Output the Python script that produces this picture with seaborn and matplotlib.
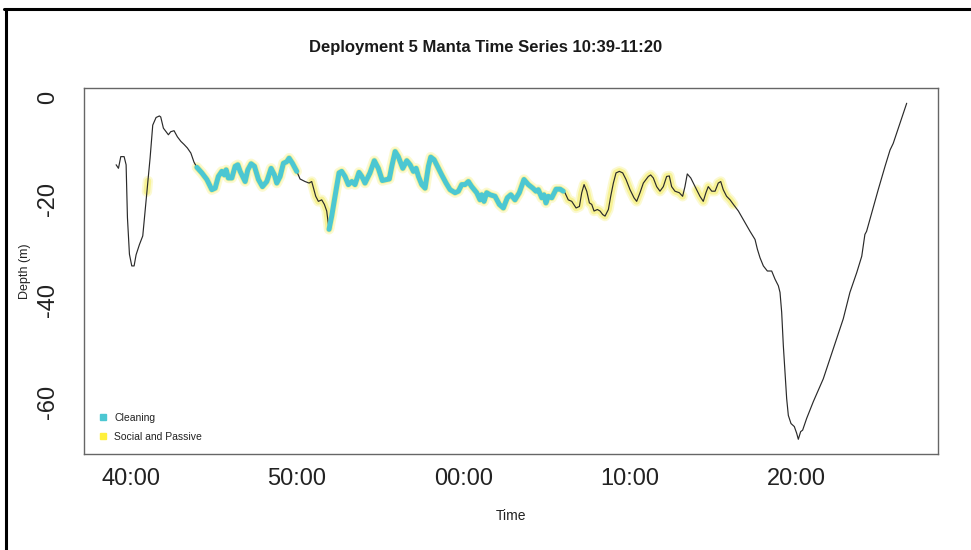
import matplotlib
matplotlib.use("Agg")
import matplotlib.pyplot as plt
from matplotlib.lines import Line2D
import pandas as pd
import seaborn as sns

# Tag record: minutes after 10:00 and depth in metres
time_min = [
    39.13, 39.27, 39.41, 39.61, 39.73, 39.81, 39.93, 40.07, 40.21, 40.33,
    40.53, 40.73, 40.87, 40.98, 41.04, 41.17, 41.33, 41.53, 41.73, 41.81,
    41.97, 42.13, 42.27, 42.41, 42.61, 42.81, 43.02, 43.21, 43.41, 43.62,
    43.81, 43.98,
    44.28, 44.58, 44.88, 45.08, 45.27, 45.48, 45.63, 45.74, 45.87, 46.08,
    46.28, 46.44, 46.58, 46.88, 47.04, 47.24, 47.44, 47.68, 47.92, 48.18,
    48.44, 48.64, 48.78, 48.98, 49.18, 49.38, 49.52, 49.72, 49.98,
    50.18, 50.48, 50.72, 50.88, 51.12, 51.28, 51.48, 51.64, 51.78, 51.92,
    52.08, 52.28, 52.52, 52.68, 52.88, 53.08, 53.29, 53.48, 53.72, 53.89,
    54.08, 54.38, 54.64, 54.88, 55.12, 55.39, 55.54, 55.69, 55.89, 56.08,
    56.35, 56.59, 56.79, 56.99, 57.15, 57.29, 57.49, 57.69, 57.89, 58.03,
    58.23, 58.43, 58.69, 58.95, 59.19, 59.49, 59.69, 59.89, 60.09, 60.29,
    60.49, 60.79, 60.99, 61.09, 61.23, 61.39, 61.59, 61.89, 62.15, 62.39,
    62.63, 62.84, 63.09, 63.35, 63.63, 63.89, 64.16, 64.35, 64.49, 64.70,
    64.83, 64.95, 65.09, 65.30, 65.56, 65.80, 65.99,
    66.09, 66.29, 66.50, 66.76, 66.96, 67.10, 67.24, 67.40, 67.56, 67.70,
    67.84, 68.04, 68.20, 68.36, 68.50, 68.70, 68.84, 69.00, 69.16, 69.36,
    69.56, 69.76, 70.00, 70.24, 70.40, 70.60, 70.80, 70.96, 71.10, 71.24,
    71.40, 71.60, 71.80, 72.00, 72.20, 72.36, 72.50, 72.70, 72.96, 73.16,
    73.30, 73.44, 73.65, 73.80, 74.00, 74.20, 74.40, 74.56, 74.70, 74.91,
    75.11, 75.30, 75.45, 75.60, 75.80, 76.01, 76.21,
    76.51, 76.91, 77.21, 77.51, 77.65, 77.81, 78.01, 78.25, 78.51, 78.71,
    78.91, 79.01, 79.11, 79.21, 79.31, 79.41, 79.51, 79.67, 79.87, 80.01,
    80.11, 80.25, 80.37, 80.61, 81.01, 81.61, 82.21, 82.81, 83.21, 83.62,
    83.92, 84.11, 84.21, 84.52, 84.91, 85.32, 85.62, 85.81, 86.22, 86.62,
]
depth_m = [
    -13.3, -14.0, -11.7, -11.7, -13.3, -23.7, -30.9, -33.2, -33.2, -31.0,
    -29.0, -27.3, -22.4, -18.6, -16.5, -12.0, -5.5, -4.0, -3.7, -3.9,
    -6.1, -6.8, -7.4, -6.8, -6.6, -7.8, -8.7, -9.3, -10.0, -11.0,
    -12.8, -13.8,
    -14.9, -16.2, -18.2, -17.9, -15.6, -14.6, -15.3, -14.3, -15.9, -15.9,
    -13.6, -13.3, -14.6, -16.6, -14.3, -13.1, -13.6, -16.2, -17.6, -16.6,
    -14.0, -15.3, -16.9, -15.6, -13.0, -12.7, -12.0, -13.0, -14.6,
    -16.1, -16.6, -16.9, -16.6, -19.5, -20.5, -20.2, -21.1, -22.4, -26.0,
    -23.4, -19.5, -14.9, -14.6, -15.6, -17.2, -16.6, -17.2, -14.8, -15.6,
    -16.9, -14.9, -12.5, -14.0, -16.4, -16.2, -16.1, -13.6, -10.7, -11.7,
    -14.0, -12.5, -13.3, -14.6, -14.0, -15.6, -17.2, -17.9, -13.6, -11.8,
    -12.3, -13.6, -15.3, -16.9, -18.2, -18.8, -18.5, -17.2, -17.2, -16.6,
    -17.6, -18.8, -20.2, -19.2, -20.5, -18.8, -19.2, -19.5, -21.1, -21.8,
    -19.8, -19.2, -20.2, -18.8, -16.2, -17.2, -17.9, -18.5, -18.2, -19.8,
    -19.2, -20.8, -19.5, -19.8, -18.1, -18.1, -18.5,
    -18.8, -20.2, -20.5, -21.8, -21.5, -18.8, -17.2, -18.5, -20.8, -21.1,
    -22.4, -22.1, -22.4, -23.1, -23.4, -22.1, -19.5, -16.9, -14.9, -14.6,
    -14.9, -16.2, -18.2, -19.8, -20.5, -18.8, -16.9, -16.2, -15.6, -15.3,
    -15.9, -17.6, -18.5, -17.6, -15.6, -15.5, -17.6, -18.5, -18.8, -19.5,
    -17.6, -15.1, -15.9, -16.9, -18.2, -19.5, -20.5, -18.8, -17.6, -18.5,
    -18.5, -16.9, -16.6, -18.2, -19.5, -20.2, -21.1,
    -22.4, -24.7, -26.4, -28.0, -29.9, -31.6, -33.2, -34.2, -34.2, -35.8,
    -37.1, -38.4, -42.3, -48.9, -54.1, -59.3, -62.6, -64.2, -64.8, -66.1,
    -67.3, -65.8, -65.5, -63.2, -59.9, -55.4, -49.5, -43.6, -38.4, -34.5,
    -31.3, -27.0, -26.4, -22.8, -18.2, -13.6, -10.4, -9.1, -5.1, -1.2,
]

# Behaviour bouts as (start, end) in minutes after 10:00
cleaning_bouts = [(43.98, 49.98), (51.92, 65.99)]
social_bouts = [(40.98, 41.04), (43.98, 49.98), (50.88, 73.16), (74.00, 76.21)]

behaviours = ["Cleaning", "Social and Passive"]
x_ticks = [40, 50, 60, 70, 80]
x_tick_labels = ["40:00", "50:00", "00:00", "10:00", "20:00"]
y_ticks = [0, -10, -20, -30, -40, -50, -60]
y_tick_labels = ["0", "", "-20", "", "-40", "", "-60"]

TEAL = "#4CC7D2"
YELLOW = "#F4EC5A"
LEGEND_YELLOW = "#FFF03C"

sns.set_theme(style="white")
plt.rcParams["font.family"] = ["Liberation Sans", "DejaVu Sans"]

df = pd.DataFrame({"time": time_min, "depth": depth_m})


def bout(a, b):
    return df[(df["time"] >= a - 1e-9) & (df["time"] <= b + 1e-9)]


fig = plt.figure(figsize=(9.71, 5.5), dpi=100)
ax = fig.add_axes([0.0865, 0.1745, 0.8795, 0.6655])

# soft yellow band under the social / passive bouts
for a, b in social_bouts:
    seg = bout(a, b)
    for lw, al in [(7.5, 0.28), (4.8, 0.5)]:
        sns.lineplot(data=seg, x="time", y="depth", ax=ax, color=YELLOW,
                     lw=lw, alpha=al, sort=False, estimator=None,
                     solid_capstyle="round", solid_joinstyle="round")

# full depth trace
sns.lineplot(data=df, x="time", y="depth", ax=ax, color="#2a2a2a", lw=0.85,
             sort=False, estimator=None)

# cleaning bouts on top
for a, b in cleaning_bouts:
    seg = bout(a, b)
    sns.lineplot(data=seg, x="time", y="depth", ax=ax, color=TEAL, lw=3.6,
                 sort=False, estimator=None, solid_capstyle="round",
                 solid_joinstyle="round")

ax.set_xlim(37.2, 88.5)
ax.set_ylim(-70.2, 1.8)
ax.set_xticks(x_ticks)
ax.set_xticklabels(x_tick_labels)
ax.set_yticks(y_ticks)
ax.set_yticklabels(y_tick_labels, rotation=90, va="center")

for s in ax.spines.values():
    s.set_visible(True)
    s.set_color("#666666")
    s.set_linewidth(1.0)

ax.tick_params(axis="both", direction="out", length=6, width=1,
               color="#555555", labelcolor="#222222", labelsize=17)
ax.tick_params(axis="x", pad=4)
ax.tick_params(axis="y", pad=12)

ax.set_xlabel("Time", fontsize=10, color="#222222", labelpad=14)
ax.set_ylabel("Depth (m)", fontsize=9, color="#222222", labelpad=4)

fig.text(0.5, 0.914, "Deployment 5 Manta Time Series 10:39-11:20",
         ha="center", va="center", fontsize=12, fontweight="bold",
         color="#1a1a1a")

handles = [
    Line2D([], [], marker="s", ls="none", color=TEAL, markersize=5),
    Line2D([], [], marker="s", ls="none", color=LEGEND_YELLOW, markersize=5),
]
ax.legend(handles, behaviours, loc="lower left", bbox_to_anchor=(0.005, 0.008),
          frameon=False, fontsize=7.5, handletextpad=0.6, labelspacing=0.85,
          handlelength=1.0, labelcolor="#222222")

# outer frame of the figure
fig.add_artist(Line2D([0.004, 1.0], [0.9845, 0.9845], transform=fig.transFigure,
                      color="black", lw=2.2))
fig.add_artist(Line2D([0.0062, 0.0062], [0.0, 0.9845], transform=fig.transFigure,
                      color="black", lw=2.2))

fig.savefig("out.png", dpi=100, facecolor="white")
